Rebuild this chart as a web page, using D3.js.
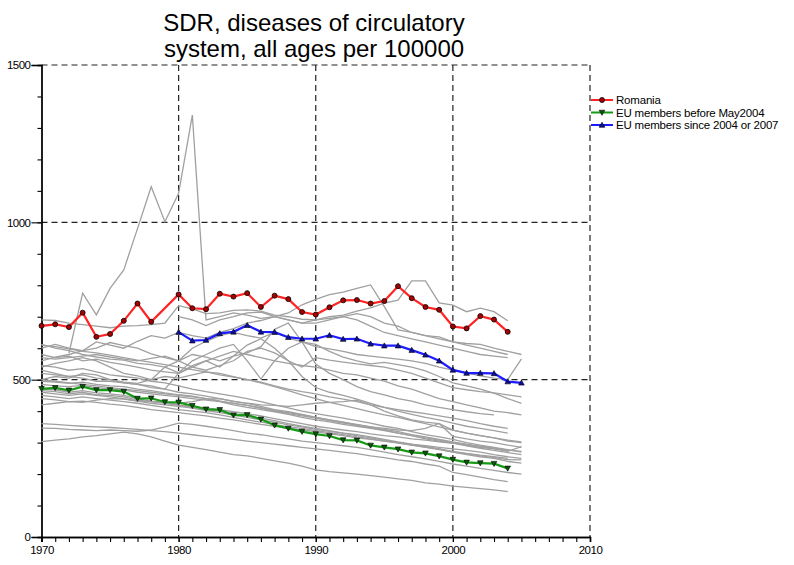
<!DOCTYPE html>
<html>
<head>
<meta charset="utf-8">
<script src="https://cdn.jsdelivr.net/npm/d3@7"></script>
<style>
  body { margin: 0; background: #fff; }
  text { font-family: "Liberation Sans", Arial, sans-serif; }
</style>
</head>
<body>
<div id="chart"></div>
<script>
// SDR, diseases of circulatory system - line chart

var years = d3.range(1970, 2006);
var yTicks = [0, 500, 1000, 1500];
var xTicks = [1970, 1980, 1990, 2000, 2010];
var legendLabels = ["Romania", "EU members before May2004", "EU members since 2004 or 2007"];

var romania = [671, 676, 667, 713, 636, 645, 687, 742, 684, null,
    771, 727, 724, 773, 764, 775, 731, 767, 756, 715,
    707, 730, 752, 753, 742, 750, 797, 759, 731, 722,
    669, 663, 702, 691, 652, null];

var euBefore = [471, 474, 466, 478, 467, 467, 462, 440, 441, 429,
    428, 417, 406, 404, 387, 388, 374, 355, 345, 335,
    327, 321, 308, 307, 291, 285, 279, 269, 266, 257,
    246, 237, 235, 233, 218, null];

var euSince = [null, null, null, null, null, null, null, null, null, null,
    651, 624, 626, 647, 652, 673, 652, 651, 635, 630,
    630, 641, 629, 630, 614, 608, 608, 594, 579, 560,
    531, 521, 521, 520, 494, 490];

// other countries (grey)
var others = [
  [null,null,584,775,706,790,849,980,1113,1002, 1092,1341,690,700,712,705,695,700,690,680, 690,695,700,690,670,650,640,630,620,610, 600,590,580,575,570,null],
  [690,688,680,675,670,665,670,672,675,680, 735,725,710,712,720,722,718,705,700,692, 690,700,705,718,728,743,753,814,814,744, 737,716,727,716,687,null],
  [600,612,600,592,620,610,600,622,640,632, 650,640,632,650,662,680,688,700,712,738, 755,770,778,790,801,732,658,650,640,636, 620,615,612,600,590,580],
  [612,600,592,580,572,565,562,552,548,540, 560,580,572,560,575,585,605,660,680,620, 550,520,500,478,462,452,440,432,420,412, 405,398,392,388,null,null],
  [560,572,580,592,600,618,608,600,582,570, 560,600,622,640,650,640,632,650,632,620, 605,598,590,580,575,570,565,560,552,540, 530,522,512,505,500,566],
  [null,null,null,null,null,null,null,null,null,null, 700,690,672,690,700,712,715,700,690,680, 680,690,700,710,700,680,670,650,640,630, 620,610,600,590,580,null],
  [540,552,560,570,560,540,520,512,500,540, 522,560,580,600,612,560,502,560,600,620, 612,590,572,560,550,555,548,540,528,510, 490,480,470,457,440,425],
  [580,570,575,560,565,555,548,540,530,525, 520,540,560,575,590,580,570,560,552,545, 540,530,520,515,505,495,480,470,455,440, 430,420,410,400,395,388],
  [530,520,510,515,505,500,490,485,480,470, 520,545,560,540,575,610,630,600,560,510, 475,460,450,438,425,412,400,390,380,372, 362,352,345,338,330,null],
  [520,515,510,505,495,495,490,485,475,470, 460,455,448,440,430,425,415,405,398,390, 380,372,365,355,348,340,330,322,312,305, 298,290,282,275,268,262],
  [495,492,488,492,485,480,478,470,465,458, 452,448,440,432,425,418,410,400,392,385, 378,370,362,356,350,342,335,325,318,310, 302,295,288,282,275,null],
  [485,480,478,482,475,470,468,460,455,450, 445,440,435,430,420,412,405,398,390,380, 372,366,358,352,345,338,330,322,315,308, 300,292,285,280,272,287],
  [460,455,450,455,450,445,440,432,425,420, 415,410,402,395,388,380,372,365,356,350, 342,336,330,322,315,308,300,292,286,280, 272,266,260,255,250,null],
  [450,445,440,445,440,435,430,425,418,412, 405,400,395,388,380,372,365,358,350,345, 338,332,325,318,312,305,298,292,285,278, 270,265,258,252,246,245],
  [440,436,430,432,428,422,418,412,405,400, 395,390,385,378,372,365,358,352,345,340, 335,328,322,315,310,305,300,294,290,285, 280,275,270,262,255,250],
  [470,468,460,465,458,455,450,440,432,428, 420,415,410,405,398,392,385,376,368,360, 352,346,340,335,328,322,318,312,308,302, 298,292,288,282,276,272],
  [420,425,430,428,435,440,438,432,430,428, 425,430,438,440,432,425,420,418,415,420, 425,428,430,435,420,400,385,372,365,360, 340,330,322,315,305,300],
  [500,495,490,485,480,475,470,465,460,455, 450,445,440,432,425,418,410,402,395,388, 380,372,365,358,350,345,340,338,345,361, 320,312,305,300,292,285],
  [545,540,530,535,525,515,510,505,495,490, 480,470,462,455,448,440,430,420,410,400, 392,385,378,370,362,352,345,335,325,318, 310,300,292,285,278,270],
  [346,345,342,340,338,340,338,336,340,350, 362,358,352,345,338,330,325,318,312,305, 300,295,290,285,278,270,262,255,248,240, 232,225,218,212,205,200],
  [303,308,312,318,322,328,333,328,318,305, 292,285,278,270,262,258,250,242,235,225, 213,208,204,200,195,190,185,180,172,168, 162,158,154,150,144,null],
  [360,358,355,352,350,348,345,342,338,335, 330,325,320,315,310,305,300,295,290,285, 280,275,270,265,258,252,245,240,232,225, 205,198,190,182,176,null],
  [465,462,455,460,452,450,445,435,430,425, 418,412,405,400,392,385,378,370,360,352, 345,338,330,325,318,310,302,295,288,280, 270,262,255,250,240,235],
  [610,605,598,590,585,578,570,562,555,548, 540,532,525,515,508,500,490,478,465,452, 440,428,418,408,398,388,380,370,360,350, 340,330,322,315,308,302],
  [570,565,570,575,580,572,565,560,568,575, 560,540,530,545,560,590,600,585,560,540, 570,562,556,550,545,540,530,520,505,490, 475,468,462,458,452,445],
  [500,510,505,520,515,500,492,488,500,510, 505,515,525,520,510,500,492,480,470,462, 455,445,438,430,420,412,405,398,392,385, 378,370,360,352,345,null]
];

function drawChart() {
    var W = 794, H = 565;
    var left = 41.5, right = 590, top = 65, bottom = 537;

    var svg = d3.select("#chart")
        .append("svg")
        .attr("width", W)
        .attr("height", H);

    var xScale = d3.scaleLinear().domain([1970, 2010]).range([left, right]);
    var yScale = d3.scaleLinear().domain([0, 1500]).range([bottom, top]);

    // dashed grid + frame
    var grid = svg.append("g")
        .attr("stroke", "#222")
        .attr("stroke-width", 1.2)
        .attr("stroke-dasharray", "6,4");
    grid.selectAll(".hg")
        .data(yTicks.filter(d => d > 0))
        .enter().append("line")
        .attr("x1", left).attr("x2", right)
        .attr("y1", d => yScale(d)).attr("y2", d => yScale(d));
    grid.selectAll(".vg")
        .data(xTicks.filter(d => d > 1970))
        .enter().append("line")
        .attr("x1", d => xScale(d)).attr("x2", d => xScale(d))
        .attr("y1", top).attr("y2", bottom);

    // axes
    var yMinor = d3.axisLeft(yScale).tickValues(d3.range(0, 1501, 100)).tickSize(4).tickFormat("");
    var yMajor = d3.axisLeft(yScale).tickValues(yTicks).tickSize(10).tickPadding(1).tickFormat(d3.format("d"));
    var xMinor = d3.axisBottom(xScale).tickValues(d3.range(1970, 2011, 1)).tickSize(5).tickFormat("");
    var xMajor = d3.axisBottom(xScale).tickValues(xTicks).tickSize(5).tickPadding(4).tickFormat(d3.format("d"));

    [yMinor, yMajor].forEach(function (ax) {
        svg.append("g").attr("class", "axis").attr("transform", "translate(" + left + ",0)").call(ax);
    });
    [xMinor, xMajor].forEach(function (ax) {
        svg.append("g").attr("class", "axis").attr("transform", "translate(0," + bottom + ")").call(ax);
    });
    svg.selectAll(".axis .domain").attr("stroke", "#000").attr("stroke-width", 1.3);
    svg.selectAll(".axis line").attr("stroke", "#000").attr("stroke-width", 1.1);
    svg.selectAll(".axis text")
        .attr("font-family", "'Liberation Sans', Arial, sans-serif")
        .attr("font-size", "11.5px")
        .attr("letter-spacing", "-0.5px")
        .attr("fill", "#000");

    var line = d3.line()
        .x(d => xScale(d.year))
        .y(d => yScale(d.value));

    function toPoints(arr) {
        return years.map((y, i) => ({ year: y, value: arr[i] })).filter(d => d.value !== null);
    }

    // grey lines
    svg.append("g").selectAll("path")
        .data(others)
        .enter().append("path")
        .attr("d", d => line(toPoints(d)))
        .attr("fill", "none")
        .attr("stroke", "#a0a0a0")
        .attr("stroke-width", 1.3);

    var series = [
        { data: euBefore, color: "#169a16", fill: "#0a5a0a", symbol: "down" },
        { data: euSince, color: "#1c1cff", fill: "#10109a", symbol: "up" },
        { data: romania, color: "#ff2424", fill: "#a80000", symbol: "circle" }
    ];

    function addMarker(g, s, x, y) {
        if (s.symbol === "circle") {
            g.append("circle").attr("cx", x).attr("cy", y).attr("r", 2.5)
                .attr("fill", s.fill).attr("stroke", "#000").attr("stroke-width", 0.8);
        } else {
            var dy = s.symbol === "up" ? -1 : 1;
            var pts = [[x - 2.8, y - dy * 2.3], [x + 2.8, y - dy * 2.3], [x, y + dy * 2.8]];
            g.append("path").attr("d", "M" + pts.join("L") + "Z")
                .attr("fill", s.fill).attr("stroke", "#000").attr("stroke-width", 0.6);
        }
    }

    series.forEach(function (s) {
        var pts = toPoints(s.data);
        svg.append("path")
            .attr("d", line(pts))
            .attr("fill", "none")
            .attr("stroke", s.color)
            .attr("stroke-width", 2.2);
        var g = svg.append("g");
        pts.forEach(function (p) { addMarker(g, s, xScale(p.year), yScale(p.value)); });
    });

    // legend
    var legendSeries = [series[2], series[0], series[1]];
    var leg = svg.append("g");
    legendSeries.forEach(function (s, i) {
        var y = 100 + i * 12.5;
        leg.append("line").attr("x1", 591).attr("x2", 613).attr("y1", y).attr("y2", y)
            .attr("stroke", s.color).attr("stroke-width", 2);
        addMarker(leg, s, 602, y);
        leg.append("text").attr("x", 616).attr("y", y + 4)
            .attr("font-size", "11.5px")
            .attr("letter-spacing", "-0.2px")
            .text(legendLabels[i]);
    });

    // title
    svg.append("text").attr("x", 314).attr("y", 31).attr("text-anchor", "middle")
        .attr("font-size", "24px").text("SDR, diseases of circulatory");
    svg.append("text").attr("x", 314).attr("y", 57).attr("text-anchor", "middle")
        .attr("font-size", "24px").text("system, all ages per 100000");
}

drawChart();
</script>
</body>
</html>
